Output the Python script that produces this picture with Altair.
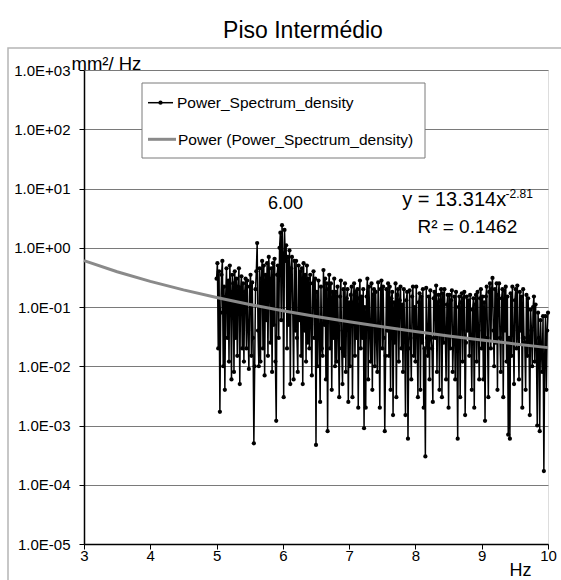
import altair as alt
import pandas as pd

# ---------------- data ----------------
freq_start = 5.0
freq_step = 0.0125
psd_values = [
    0.30, 0.55, 0.02, 0.40, 0.0017, 0.08, 0.35, 0.60, 0.01, 0.22, 0.004, 0.15, 0.45, 0.03, 0.28, 0.012,
    0.50, 0.18, 0.006, 0.35, 0.25, 0.008, 0.40, 0.03, 0.30, 0.015, 0.22, 0.45, 0.005, 0.20, 0.33, 0.02,
    0.25, 0.012, 0.18, 0.30, 0.02, 0.28, 0.04, 0.009, 0.22, 0.35, 0.015, 0.26, 0.03, 0.0005, 0.01, 0.20,
    0.40, 1.20, 0.04, 0.01, 0.45, 0.012, 0.30, 0.60, 0.02, 0.50, 0.007, 0.35, 0.06, 0.55, 0.015, 0.70,
    0.30, 0.025, 0.45, 0.008, 0.55, 0.05, 0.65, 0.012, 0.0012, 0.35, 0.50, 0.03, 1.00, 1.80, 0.06, 2.40,
    0.80, 0.003, 2.00, 0.60, 1.10, 0.02, 0.70, 0.05, 0.90, 0.005, 0.45, 0.70, 0.08, 0.006, 0.60, 0.04,
    0.60, 0.03, 0.008, 0.50, 0.06, 0.40, 0.015, 0.45, 0.005, 0.55, 0.04, 0.35, 0.012, 0.50, 0.025, 0.30,
    0.02, 0.35, 0.05, 0.007, 0.25, 0.40, 0.03, 0.30, 0.00047, 0.18, 0.01, 0.28, 0.04, 0.0025, 0.22, 0.02,
    0.015, 0.42, 0.05, 0.30, 0.006, 0.25, 0.0008, 0.20, 0.35, 0.02, 0.25, 0.004, 0.18, 0.03, 0.30, 0.01,
    0.18, 0.012, 0.22, 0.04, 0.003, 0.15, 0.28, 0.02, 0.005, 0.20, 0.015, 0.25, 0.008, 0.14, 0.20, 0.0025,
    0.12, 0.01, 0.16, 0.22, 0.003, 0.12, 0.25, 0.015, 0.18, 0.03, 0.20, 0.002, 0.14, 0.28, 0.02, 0.15,
    0.03, 0.20, 0.0009, 0.10, 0.002, 0.15, 0.30, 0.006, 0.22, 0.04, 0.012, 0.25, 0.004, 0.16, 0.20, 0.01,
    0.18, 0.03, 0.008, 0.26, 0.05, 0.002, 0.20, 0.28, 0.02, 0.22, 0.03, 0.0008, 0.015, 0.20, 0.04, 0.25,
    0.015, 0.22, 0.004, 0.14, 0.18, 0.0015, 0.12, 0.025, 0.25, 0.003, 0.16, 0.20, 0.012, 0.13, 0.22, 0.02,
    0.11, 0.008, 0.20, 0.04, 0.0015, 0.13, 0.18, 0.0006, 0.02, 0.19, 0.03, 0.006, 0.15, 0.22, 0.015, 0.10,
    0.012, 0.22, 0.04, 0.003, 0.12, 0.17, 0.004, 0.15, 0.025, 0.20, 0.002, 0.02, 0.0003, 0.21, 0.03, 0.015,
    0.15, 0.006, 0.19, 0.03, 0.02, 0.0025, 0.14, 0.18, 0.03, 0.23, 0.008, 0.12, 0.16, 0.004, 0.13, 0.20,
    0.003, 0.17, 0.025, 0.20, 0.04, 0.006, 0.11, 0.16, 0.002, 0.16, 0.02, 0.13, 0.19, 0.008, 0.03, 0.15,
    0.006, 0.18, 0.03, 0.0006, 0.10, 0.15, 0.003, 0.12, 0.17, 0.012, 0.14, 0.18, 0.0015, 0.025, 0.15, 0.04,
    0.13, 0.015, 0.16, 0.03, 0.004, 0.09, 0.14, 0.002, 0.11, 0.16, 0.012, 0.18, 0.04, 0.006, 0.14, 0.20,
    0.02, 0.15, 0.006, 0.12, 0.0012, 0.15, 0.22, 0.03, 0.003, 0.18, 0.25, 0.02, 0.20, 0.31, 0.04, 0.01,
    0.20, 0.025, 0.25, 0.004, 0.16, 0.25, 0.03, 0.008, 0.14, 0.20, 0.003, 0.19, 0.04, 0.22, 0.012, 0.15,
    0.0007, 0.03, 0.0006, 0.17, 0.015, 0.22, 0.04, 0.005, 0.13, 0.20, 0.02, 0.23, 0.03, 0.006, 0.18, 0.04,
    0.15, 0.002, 0.20, 0.03, 0.025, 0.004, 0.16, 0.015, 0.14, 0.03, 0.0015, 0.09, 0.04, 0.01, 0.10, 0.15,
    0.012, 0.11, 0.02, 0.001, 0.08, 0.03, 0.0008, 0.06, 0.02, 0.008, 0.07, 0.00017, 0.015, 0.07, 0.004, 0.04,
    0.08,
]
freq_hz = [round(freq_start + freq_step * i, 4) for i in range(len(psd_values))]

trend_x = [3.0, 3.5, 4.0, 4.5, 5.0, 5.5, 6.0, 6.5, 7.0, 7.5, 8.0, 8.5, 9.0, 9.5, 10.0]
trend_y = [0.6077, 0.394, 0.2707, 0.1944, 0.1446, 0.1106, 0.08665, 0.0692,
           0.0562, 0.0463, 0.0386, 0.03254, 0.02773, 0.02382, 0.02063]

x_ticks = [3, 4, 5, 6, 7, 8, 9, 10]
y_ticks = [1e-5, 1e-4, 1e-3, 1e-2, 1e-1, 1e0, 1e1, 1e2, 1e3]

series_names = ["Power_Spectrum_density", "Power (Power_Spectrum_density)"]
title_text = "Piso Intermédio"
peak_label = "6.00"
eq_main = "y = 13.314x"
eq_exp = "-2.81"
eq_r2 = "R² = 0.1462"

FONT = "Liberation Sans"

df = pd.DataFrame({"f": freq_hz, "p": psd_values})
dtrend = pd.DataFrame({"f": trend_x, "p": trend_y})
one = pd.DataFrame({"k": [0]})

xscale = alt.Scale(domain=[3, 10], nice=False, zero=False)
yscale = alt.Scale(type="log", domain=[1e-5, 1e3], nice=False)

label_expr = ("'1.0E' + (round(log(datum.value)/LN10) >= 0 ? '+' : '-') + '0' + "
              "abs(round(log(datum.value)/LN10))")

xenc = alt.X("f:Q", scale=xscale,
             axis=alt.Axis(values=x_ticks, title="Hz", grid=False, format="d",
                           labelFontSize=15, labelFont=FONT, labelColor="black",
                           tickSize=5, tickColor="black", domainColor="black",
                           domainWidth=1.5, tickWidth=1, labelPadding=-1,
                           titleFont=FONT, titleFontSize=18, titleFontWeight="normal",
                           titleColor="black", titleX=436, titleY=31,
                           titleAlign="center", titleBaseline="alphabetic",
                           labelFlush=False, labelOverlap=False))
yenc = alt.Y("p:Q", scale=yscale,
             axis=alt.Axis(values=y_ticks, labelExpr=label_expr, title="mm²/ Hz",
                           grid=True, gridColor="#7a7a7a", gridWidth=1,
                           labelFontSize=15, labelFont=FONT, labelColor="black",
                           tickSize=5, tickColor="black", domainColor="black",
                           domainWidth=1.5, labelPadding=9, labelOverlap=False,
                           titleFont=FONT, titleFontSize=18.5, titleFontWeight="normal",
                           titleColor="black", titleAngle=0, titleX=-13, titleY=-1,
                           titleAlign="left", titleBaseline="alphabetic",
                           labelFlush=False))

border = alt.Chart(one).mark_rect(fill=None, stroke="#b5b5b5", strokeWidth=1.5).encode(
    x=alt.value(-76), x2=alt.value(500), y=alt.value(-22), y2=alt.value(520))

data_line = alt.Chart(df).mark_line(color="black", strokeWidth=1.5).encode(x=xenc, y=yenc)
data_pts = alt.Chart(df).mark_point(filled=True, color="black", size=18, opacity=1).encode(
    x="f:Q", y="p:Q")
trend = alt.Chart(dtrend).mark_line(color="#8a8a8a", strokeWidth=3).encode(x="f:Q", y="p:Q")

# legend (box, symbols, labels)
leg_box = alt.Chart(one).mark_rect(fill="white", stroke="#7a7a7a", strokeWidth=1).encode(
    x=alt.value(58), x2=alt.value(341), y=alt.value(13), y2=alt.value(88))
leg_l1 = alt.Chart(one).mark_rule(color="black", strokeWidth=1.5).encode(
    x=alt.value(64), x2=alt.value(89), y=alt.value(32.7))
leg_p1 = alt.Chart(one).mark_point(filled=True, color="black", size=18, opacity=1).encode(
    x=alt.value(76.5), y=alt.value(32.7))
leg_t1 = alt.Chart(one).mark_text(align="left", baseline="middle", fontSize=15.5,
                                  font=FONT, color="black", text=series_names[0]).encode(
    x=alt.value(93), y=alt.value(33))
leg_l2 = alt.Chart(one).mark_rule(color="#8a8a8a", strokeWidth=3).encode(
    x=alt.value(64), x2=alt.value(92), y=alt.value(69.3))
leg_t2 = alt.Chart(one).mark_text(align="left", baseline="middle", fontSize=15.5,
                                  font=FONT, color="black", text=series_names[1]).encode(
    x=alt.value(94), y=alt.value(69.5))

# annotations
ann = pd.DataFrame({
    "f": [6.04, 7.80, 9.36, 8.03],
    "p": [4.49, 5.05, 7.0, 1.77],
    "t": [peak_label, eq_main, eq_exp, eq_r2],
})
ann_peak = alt.Chart(ann.iloc[[0]]).mark_text(align="center", baseline="alphabetic",
                                              font=FONT, fontSize=18, color="black").encode(
    x="f:Q", y="p:Q", text="t:N")
ann_eq = alt.Chart(ann.iloc[[1]]).mark_text(align="left", baseline="alphabetic",
                                            font=FONT, fontSize=20, color="black").encode(
    x="f:Q", y="p:Q", text="t:N")
ann_r2 = alt.Chart(ann.iloc[[3]]).mark_text(align="left", baseline="alphabetic",
                                            font=FONT, fontSize=19, color="black").encode(
    x="f:Q", y="p:Q", text="t:N")
ann_exp = alt.Chart(ann.iloc[[2]]).mark_text(align="left", baseline="alphabetic",
                                             font=FONT, fontSize=12, color="black").encode(
    x="f:Q", y="p:Q", text="t:N")

chart = alt.layer(
    border, data_line, data_pts, trend, leg_box, leg_l1, leg_p1, leg_t1, leg_l2, leg_t2,
    ann_peak, ann_eq, ann_r2, ann_exp
).properties(
    width=464, height=474,
    title=alt.TitleParams(text=title_text, font=FONT, fontSize=23, fontWeight="normal",
                          color="black", anchor="middle", dx=-13, offset=4),
    autosize=alt.AutoSizeParams(type="none"),
    padding={"left": 84, "top": 70, "right": 13, "bottom": 36},
).configure_view(
    stroke="#a6a6a6", strokeWidth=1.5
).configure(background="white")

chart.save("out.html", embed_options={"renderer": "svg", "actions": False})
